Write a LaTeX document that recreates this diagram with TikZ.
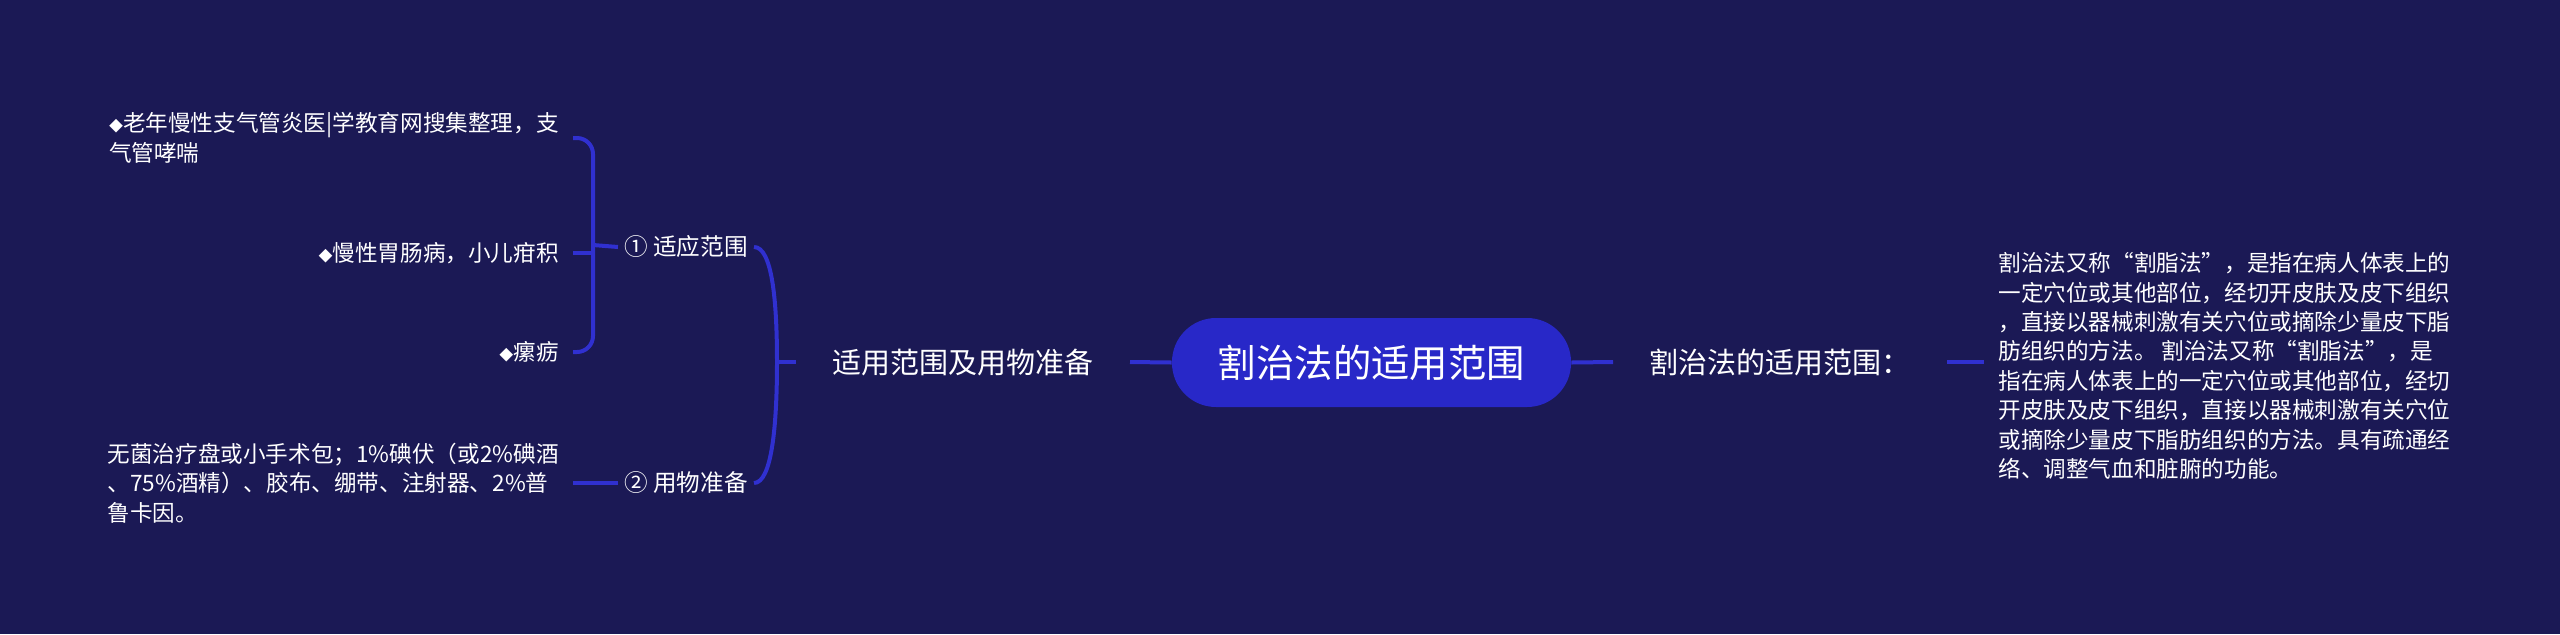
\documentclass[tikz,border=0pt]{standalone}
\usepackage{fontspec}
\setmainfont{Noto Sans CJK SC}
\usepackage{xcolor}
\definecolor{bgnavy}{RGB}{27,25,85}
\definecolor{rootblue}{RGB}{40,40,200}
\definecolor{linkblue}{RGB}{48,48,208}
\newcommand{\dia}{{\fontsize{7}{7}\selectfont ◆}}

\begin{document}
\begin{tikzpicture}[x=0.5pt,y=-0.5pt,
    link/.style={draw=linkblue, line width=2pt},
    rootnode/.style={fill=rootblue, text=white, rounded corners=22pt, minimum width=199.5pt, minimum height=44.5pt, inner sep=0pt, font=\fontsize{19.2}{22}\selectfont},
    branch/.style={text=white, inner xsep=18pt, inner ysep=0pt, font=\fontsize{14.5}{17}\selectfont},
    sub/.style={text=white, inner xsep=3pt, inner ysep=0pt, font=\fontsize{11.8}{14}\selectfont},
    leaf/.style={text=white, inner xsep=7pt, inner ysep=0pt, align=left, font=\fontsize{11.3}{14.7}\selectfont}]
    %set diagram size 2560 x 634
    \fill[bgnavy] (0,0) rectangle (2560,634);
    \useasboundingbox (0,0) rectangle (2560,634);

    % Root Node
    \node[rootnode] (root) at (1371.5,362.5) {割治法的适用范围};
    % Text Node
    \node[branch, anchor=east] (prep) at (1130,362) {适用范围及用物准备};
    % Text Node
    \node[branch, anchor=west] (scope) at (1613,362) {割治法的适用范围：};
    % Text Node
    \node[leaf, anchor=west] (detail) at (1984,366) {割治法又称“割脂法”，是指在病人体表上的\\一定穴位或其他部位，经切开皮肤及皮下组织\\，直接以器械刺激有关穴位或摘除少量皮下脂\\肪组织的方法。 割治法又称“割脂法”，是\\指在病人体表上的一定穴位或其他部位，经切\\开皮肤及皮下组织，直接以器械刺激有关穴位\\或摘除少量皮下脂肪组织的方法。具有疏通经\\络、调整气血和脏腑的功能。};
    % Text Node
    \node[sub, anchor=east] (range) at (754,247) {① 适应范围};
    % Text Node
    \node[sub, anchor=east] (supply) at (754,483) {② 用物准备};
    % Text Node
    \node[leaf, anchor=east] (bronch) at (573,138) {\dia 老年慢性支气管炎医|学教育网搜集整理，支\\气管哮喘};
    % Text Node
    \node[leaf, anchor=east] (gastro) at (573,253) {\dia 慢性胃肠病，小儿疳积};
    % Text Node
    \node[leaf, anchor=east] (scrof) at (573,352) {\dia 瘰疬};
    % Text Node
    \node[leaf, anchor=east] (tools) at (573,483) {无菌治疗盘或小手术包；1\%碘伏（或2\%碘酒\\、75\%酒精）、胶布、绷带、注射器、2\%普\\鲁卡因。};

    %Junctions
    \coordinate (jprep) at (777,362);
    \coordinate (jrange) at (593,245);

    %Straight Lines
    \draw[link] (root.west) -- (prep.east);
    \draw[link] (root.east) -- (scope.west);
    \draw[link] (scope.east) -- (scope.east -| detail.west);
    %Curve Lines
    \draw[link] (prep.west) -- (jprep);
    \draw[link] (jprep) .. controls (777,300) and (772,247) .. (range.east);
    \draw[link] (jprep) .. controls (777,424) and (772,483) .. (supply.east);
    %Bracket
    \draw[link] (range.west) -- (jrange);
    \draw[link, rounded corners=8pt] (bronch.east) -| (jrange) |- (scrof.east);
    \draw[link] (gastro.east) -- (gastro.east -| jrange);
    \draw[link] (tools.east) -- (supply.west);

\end{tikzpicture}
\end{document}
